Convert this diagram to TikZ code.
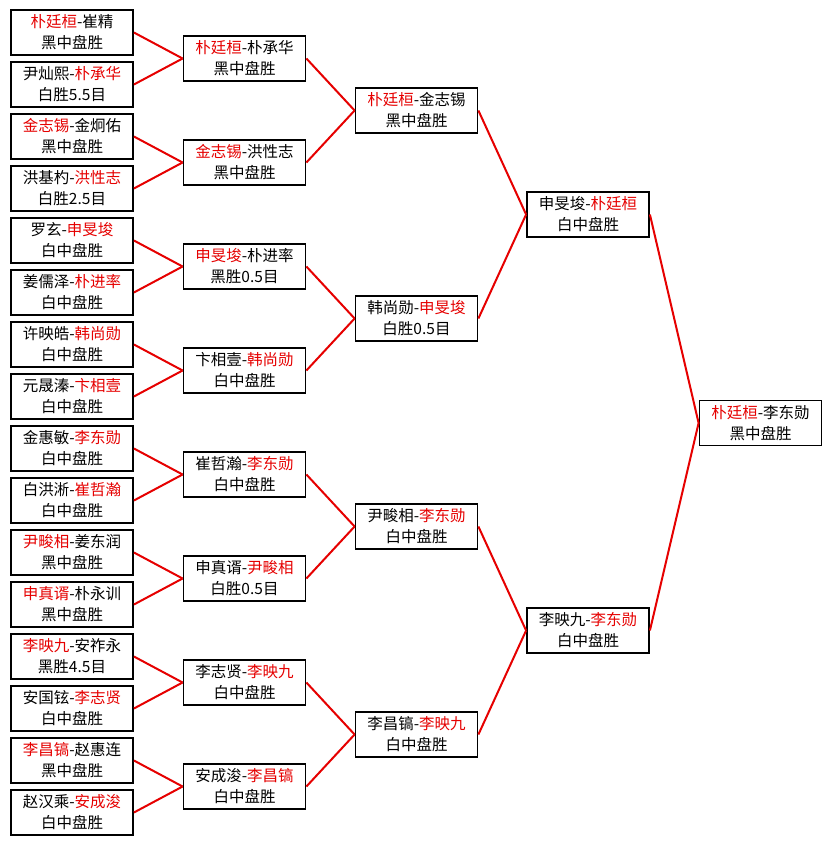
\documentclass[tikz,border=0pt]{standalone}
\usepackage{fontspec}
\setmainfont{Noto Sans CJK SC}
\definecolor{winred}{RGB}{230,0,0}
\newcommand{\w}[1]{\textcolor{winred}{#1}}
\tikzset{
	game/.style={draw, line width=1.8pt, inner sep=0pt, align=center,
		minimum width=122pt, minimum height=45pt, font=\fontsize{15.5}{21}\selectfont},
	win/.style={winred, line width=2pt}
}
\begin{document}
\begin{tikzpicture}[x=1pt, y=-1pt]
		\useasboundingbox[fill=white] (0,0) rectangle (831,845);
		%round of 32
		\node[game] (a0) at (72, 32.5){\w{朴廷桓}-崔精\\黑中盘胜};
		\node[game] (a1) at (72, 84.5){尹灿熙-\w{朴承华}\\白胜5.5目};
		\node[game] (a2) at (72, 136.5){\w{金志锡}-金炯佑\\黑中盘胜};
		\node[game] (a3) at (72, 188.5){洪基杓-\w{洪性志}\\白胜2.5目};
		\node[game] (a4) at (72, 240.5){罗玄-\w{申旻埈}\\白中盘胜};
		\node[game] (a5) at (72, 292.5){姜儒泽-\w{朴进率}\\白中盘胜};
		\node[game] (a6) at (72, 344.5){许映皓-\w{韩尚勋}\\白中盘胜};
		\node[game] (a7) at (72, 396.5){元晟溱-\w{卞相壹}\\白中盘胜};
		\node[game] (a8) at (72, 448.5){金惠敏-\w{李东勋}\\白中盘胜};
		\node[game] (a9) at (72, 500.5){白洪淅-\w{崔哲瀚}\\白中盘胜};
		\node[game] (a10) at (72, 552.5){\w{尹畯相}-姜东润\\黑中盘胜};
		\node[game] (a11) at (72, 604.5){\w{申真谞}-朴永训\\黑中盘胜};
		\node[game] (a12) at (72, 656.5){\w{李映九}-安祚永\\黑胜4.5目};
		\node[game] (a13) at (72, 708.5){安国铉-\w{李志贤}\\白中盘胜};
		\node[game] (a14) at (72, 760.5){\w{李昌镐}-赵惠连\\黑中盘胜};
		\node[game] (a15) at (72, 812.5){赵汉乘-\w{安成浚}\\白中盘胜};
		
		%round of 16
		\node[game] (b0) at (244.5, 58.5){\w{朴廷桓}-朴承华\\黑中盘胜};
		\node[game] (b1) at (244.5, 162.5){\w{金志锡}-洪性志\\黑中盘胜};
		\node[game] (b2) at (244.5, 266.5){\w{申旻埈}-朴进率\\黑胜0.5目};
		\node[game] (b3) at (244.5, 370.5){卞相壹-\w{韩尚勋}\\白中盘胜};
		\node[game] (b4) at (244.5, 474.5){崔哲瀚-\w{李东勋}\\白中盘胜};
		\node[game] (b5) at (244.5, 578.5){申真谞-\w{尹畯相}\\白胜0.5目};
		\node[game] (b6) at (244.5, 682.5){李志贤-\w{李映九}\\白中盘胜};
		\node[game] (b7) at (244.5, 786.5){安成浚-\w{李昌镐}\\白中盘胜};
		
		%quarter finals
		\node[game] (c0) at (416.5, 110.5){\w{朴廷桓}-金志锡\\黑中盘胜};
		\node[game] (c1) at (416.5, 318.5){韩尚勋-\w{申旻埈}\\白胜0.5目};
		\node[game] (c2) at (416.5, 526.5){尹畯相-\w{李东勋}\\白中盘胜};
		\node[game] (c3) at (416.5, 734.5){李昌镐-\w{李映九}\\白中盘胜};
		
		%semi finals and final
		\node[game] (d0) at (588, 214.5){申旻埈-\w{朴廷桓}\\白中盘胜};
		\node[game] (d1) at (588, 630.5){李映九-\w{李东勋}\\白中盘胜};
		\node[game] (e0) at (760.5, 423){\w{朴廷桓}-李东勋\\黑中盘胜};
		
		\foreach \i in {0, 1, ..., 15}{
			\pgfmathtruncatemacro{\k}{\i/2}
			\draw[win] (a\i.east)--(b\k.west);
		}
		\foreach \i in {0, 1, ..., 7}{
			\pgfmathtruncatemacro{\k}{\i/2}
			\draw[win] (b\i.east)--(c\k.west);
		}
		\foreach \i in {0, 1, 2, 3}{
			\pgfmathtruncatemacro{\k}{\i/2}
			\draw[win] (c\i.east)--(d\k.west);
		}
		\draw[win] (d0.east)--(e0.west);
		\draw[win] (d1.east)--(e0.west);
		\end{tikzpicture}
\end{document}
